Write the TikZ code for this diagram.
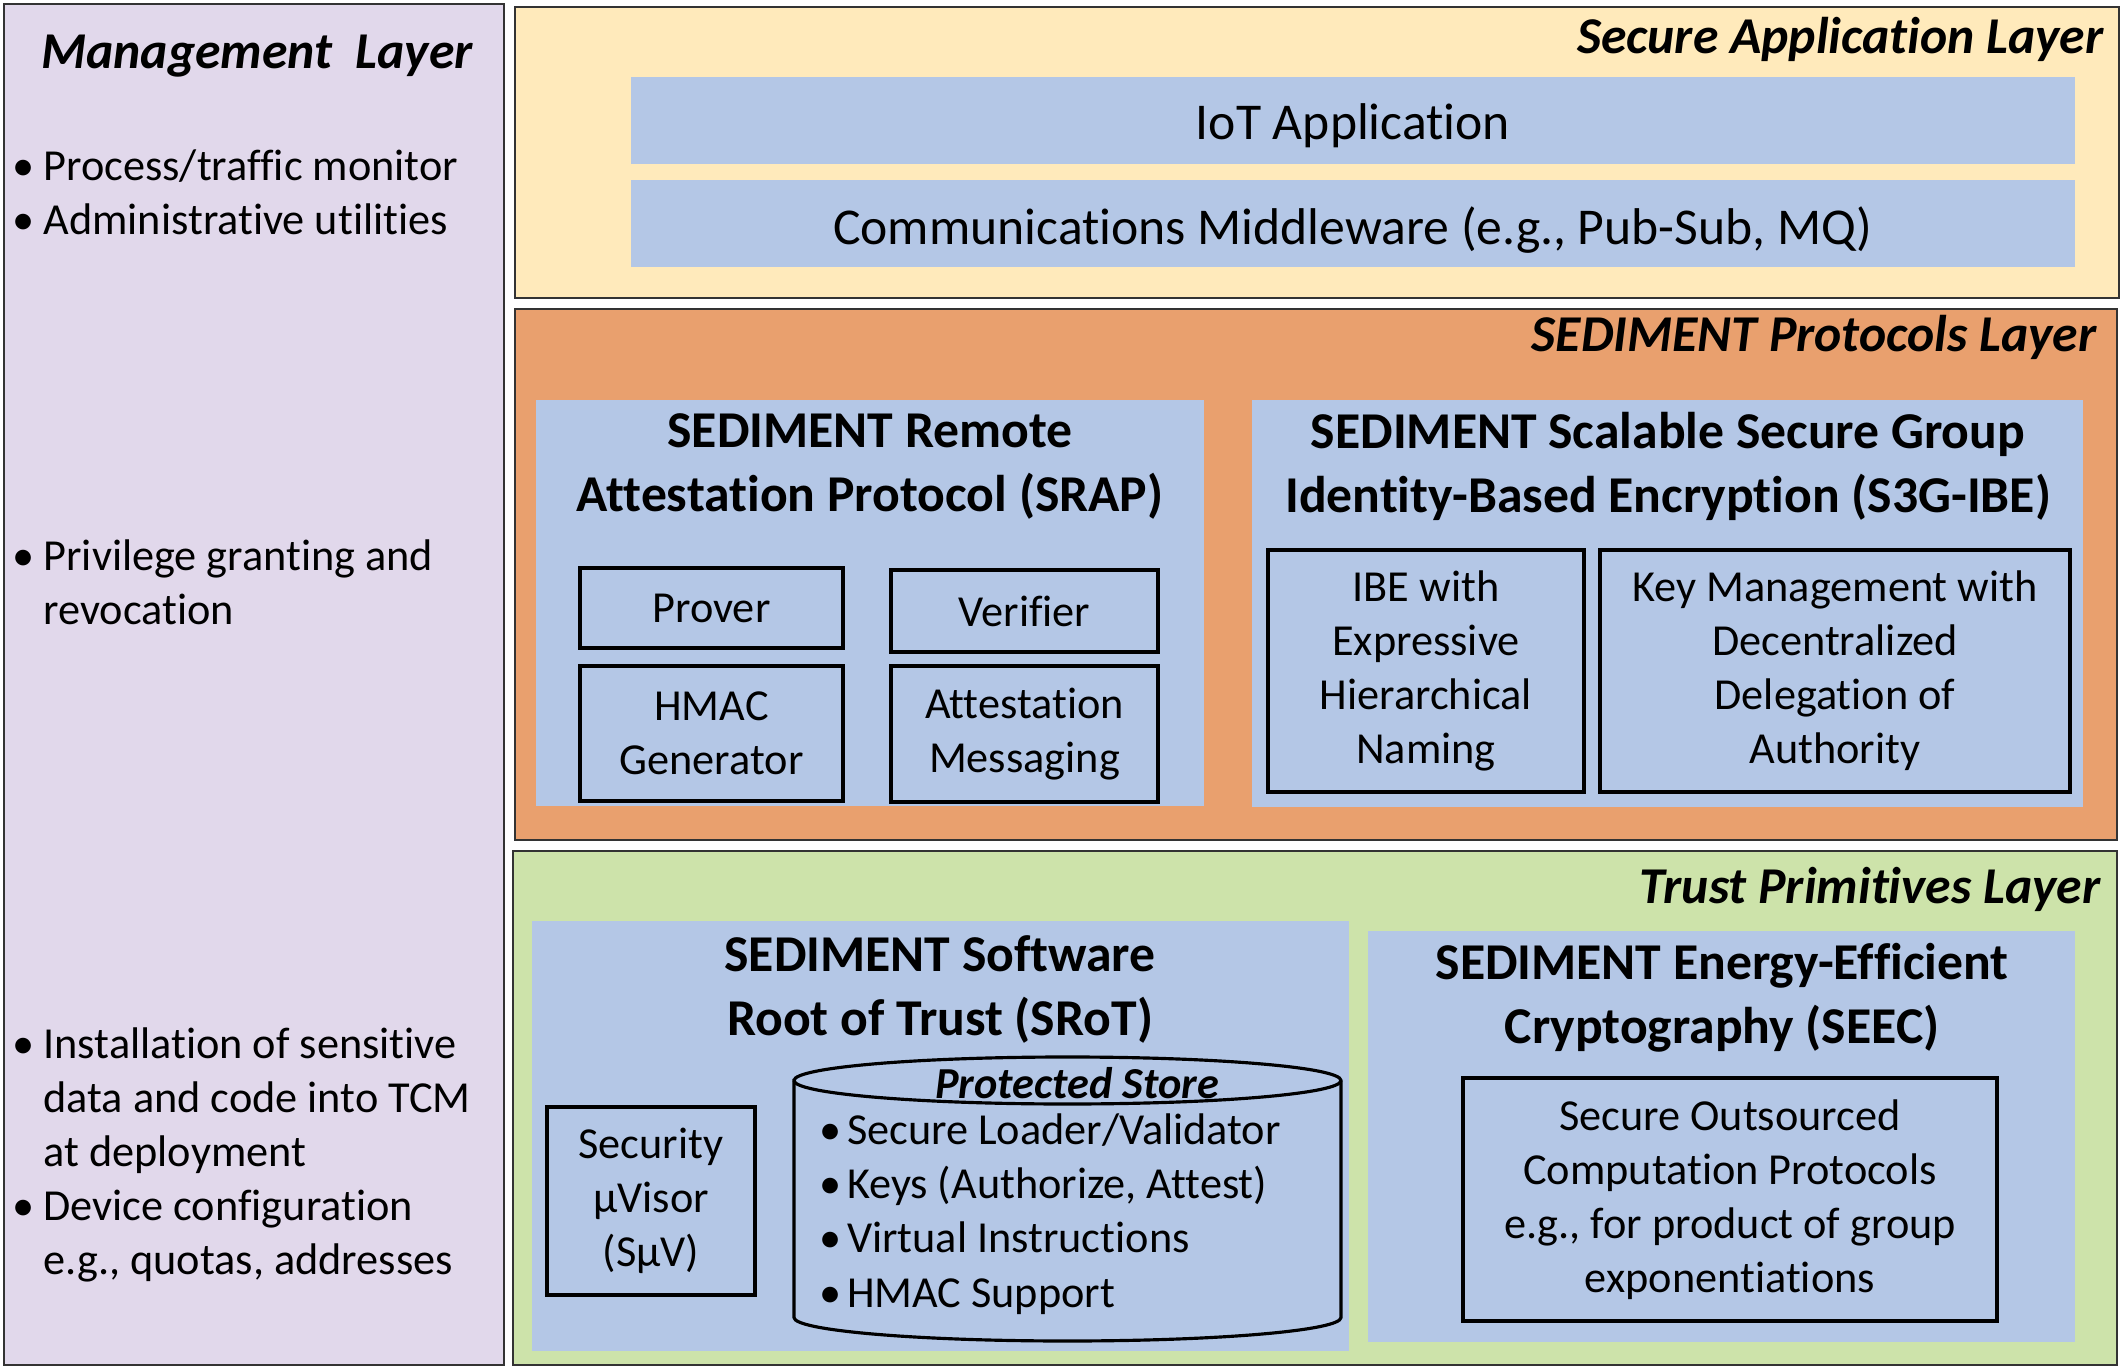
\documentclass[tikz,border=0pt]{standalone}
\usepackage{fontspec}
\setmainfont{Carlito}[Ligatures=NoCommon]
\usepackage{tikz}
\usetikzlibrary{positioning}
\definecolor{mgmtpurple}{RGB}{225, 216, 235}
\definecolor{appyellow}{RGB}{255, 234, 187}
\definecolor{protoorange}{RGB}{233, 160, 110}
\definecolor{trustgreen}{RGB}{205, 227, 170}
\definecolor{panelblue}{RGB}{180, 199, 230}
\newcommand{\bodysize}{\fontsize{12.6}{15.4}\selectfont}
\newcommand{\titlesize}{\fontsize{14.7}{18.2}\selectfont}
\newcommand{\itembul}{\textbullet\hspace{2.5pt}}
\newcommand{\itemgap}{\hphantom{\textbullet\hspace{2.5pt}}}
\newcommand{\storebul}{\textbullet\hspace{1.5pt}}

\begin{document}
\begin{tikzpicture}[
    layer/.style={rectangle, draw=black!80, line width=0.6pt, inner sep=0pt},
    panel/.style={rectangle, fill=panelblue, inner sep=0pt},
    cell/.style={rectangle, draw=black, line width=0.9pt, fill=panelblue, align=center, inner sep=0pt, font=\bodysize},
    layertitle/.style={anchor=east, inner sep=0pt, font=\titlesize\bfseries\itshape},
    paneltitle/.style={align=center, inner sep=0pt, font=\titlesize\bfseries},
    bullets/.style={anchor=west, align=left, inner sep=0pt, font=\bodysize}
]
    \useasboundingbox (0,0) rectangle (21.24,13.70);

    % Management Layer
    \node[layer, fill=mgmtpurple, minimum width=5cm, minimum height=13.61cm] (mgmt) at (2.54, 6.855) {};
    \node[inner sep=0pt, font=\titlesize\bfseries\itshape] (mgmttitle) at (2.57, 13.14) {Management~~Layer};
    \node[bullets] (mgmtmon) at (0.12, 11.78) {\itembul Process/traffic monitor\\\itembul Administrative utilities};
    \node[bullets] (mgmtpriv) at (0.12, 7.875) {\itembul Privilege granting and\\\itemgap revocation};
    \node[bullets] (mgmtinst) at (0.12, 2.15) {\itembul Installation of sensitive\\\itemgap data and code into TCM\\\itemgap at deployment\\\itembul Device configuration\\\itemgap e.g., quotas, addresses};

    % Secure Application Layer
    \node[layer, fill=appyellow, minimum width=16.04cm, minimum height=2.91cm] (applayer) at (13.17, 12.175) {};
    \node[layertitle] (apptitle) at (21.04, 13.31) {Secure Application Layer};
    \node[panel, minimum width=14.44cm, minimum height=0.87cm, font=\titlesize] (iot) at (13.53, 12.495) {\raisebox{-1.5pt}[\height][\depth]{IoT Application}};
    \node[panel, minimum width=14.44cm, minimum height=0.87cm, font=\titlesize] (middleware) at (13.53, 11.465) {\raisebox{-2pt}[\height][\depth]{Communications Middleware (e.g., Pub-Sub, MQ)}};

    % SEDIMENT Protocols Layer
    \node[layer, fill=protoorange, minimum width=16.02cm, minimum height=5.31cm] (protolayer) at (13.16, 7.955) {};
    \node[layertitle] (prototitle) at (20.97, 10.33) {SEDIMENT Protocols Layer};

    \node[panel, minimum width=6.68cm, minimum height=4.06cm] (srap) at (8.70, 7.67) {};
    \node[paneltitle] (sraptitle) at (8.70, 9.035) {SEDIMENT Remote\\Attestation Protocol (SRAP)};
    \node[cell, minimum width=2.63cm, minimum height=0.80cm] (prover) at (7.115, 7.62) {Prover};
    \node[cell, minimum width=2.67cm, minimum height=0.82cm] (verifier) at (10.245, 7.59) {Verifier};
    \node[cell, minimum width=2.63cm, minimum height=1.35cm] (hmacgen) at (7.115, 6.365) {HMAC\\Generator};
    \node[cell, minimum width=2.67cm, minimum height=1.36cm] (attmsg) at (10.245, 6.36) {Attestation\\Messaging};

    \node[panel, minimum width=8.31cm, minimum height=4.07cm] (s3g) at (16.675, 7.665) {};
    \node[paneltitle] (s3gtitle) at (16.68, 9.035) {SEDIMENT Scalable Secure Group\\Identity-Based Encryption (S3G-IBE)};
    \node[cell, minimum width=3.16cm, minimum height=2.42cm] (ibe) at (14.26, 6.99) {IBE with\\Expressive\\Hierarchical\\Naming};
    \node[cell, minimum width=4.70cm, minimum height=2.42cm] (keymgmt) at (18.35, 6.99) {Key Management with\\Decentralized\\Delegation of\\Authority};

    % Trust Primitives Layer
    \node[layer, fill=trustgreen, minimum width=16.04cm, minimum height=5.14cm] (trustlayer) at (13.15, 2.62) {};
    \node[layertitle] (trusttitle) at (21.01, 4.81) {Trust Primitives Layer};

    \node[panel, minimum width=8.17cm, minimum height=4.30cm] (srot) at (9.405, 2.34) {};
    \node[paneltitle] (srottitle) at (9.40, 3.81) {SEDIMENT Software\\Root of Trust (SRoT)};
    \node[cell, minimum width=2.08cm, minimum height=1.88cm] (suv) at (6.51, 1.69) {Security\\\textmu Visor\\(S\textmu V)};

    \draw[line width=0.9pt, fill=panelblue] (7.94, 2.895) -- (7.94, 0.525)
        arc[start angle=180, end angle=360, x radius=2.735, y radius=0.235] -- (13.41, 2.895)
        arc[start angle=0, end angle=180, x radius=2.735, y radius=0.235] -- cycle;
    \draw[line width=0.9pt] (7.94, 2.895) arc[start angle=180, end angle=360, x radius=2.735, y radius=0.235];
    \node[inner sep=0pt, font=\bodysize\bfseries\itshape] (storetitle) at (10.77, 2.87) {Protected Store};
    \node[bullets] (storeitems) at (8.19, 1.56) {\storebul Secure Loader/Validator\\\storebul Keys (Authorize, Attest)\\\storebul Virtual Instructions\\\storebul HMAC Support};

    \node[panel, minimum width=7.07cm, minimum height=4.11cm] (seec) at (17.215, 2.335) {};
    \node[paneltitle] (seectitle) at (17.22, 3.72) {SEDIMENT Energy-Efficient\\Cryptography (SEEC)};
    \node[cell, minimum width=5.34cm, minimum height=2.43cm] (outsourced) at (17.30, 1.705) {Secure Outsourced\\Computation Protocols\\e.g., for product of group\\exponentiations};

\end{tikzpicture}
\end{document}
